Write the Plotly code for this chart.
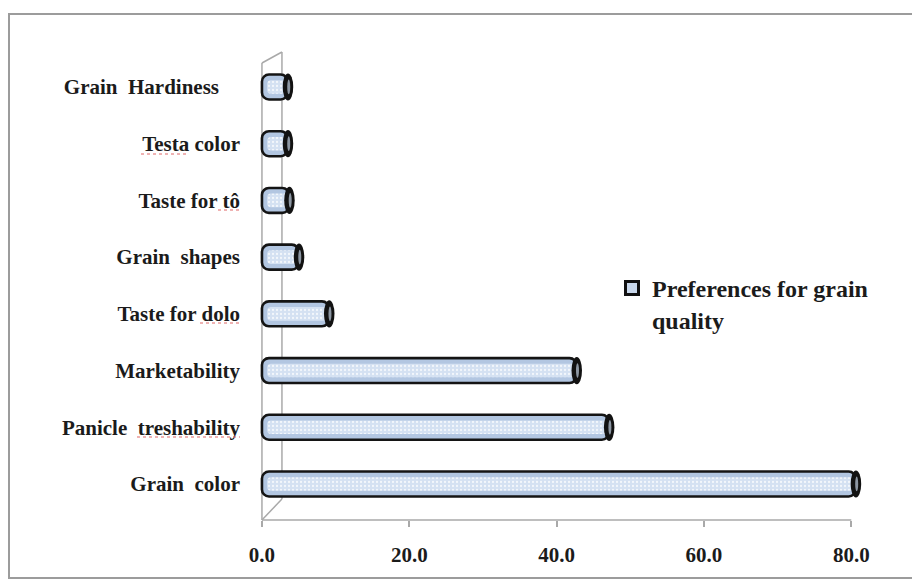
import plotly.graph_objects as go

# Grain-quality criteria, listed from the bottom of the chart to the top
criteria = [
    "Grain\u00a0 color",
    "Panicle\u00a0 treshability",
    "Marketability",
    "Taste for dolo",
    "Grain\u00a0 shapes",
    "Taste for tô",
    "Testa color",
    "Grain\u00a0 Hardiness\u00a0\u00a0\u00a0\u00a0",
]
preference_pct = [80.6, 47.1, 42.7, 9.1, 5.0, 3.7, 3.5, 3.5]

x_ticks = [0, 20, 40, 60, 80]
x_tick_text = ["0.0", "20.0", "40.0", "60.0", "80.0"]
series_name = "Preferences for grain<br>quality"

# ---- page geometry (pixels) ----
W, H = 912, 582
L, R, T, B = 259, 866, 52, 520
X_RANGE = [-0.4, 82]
Y_RANGE = [-0.635, 7.617]
BAR_W = 0.44
GLOSS_W = 0.24
GLOSS_START = 0.7


def px_x(px):
    return (px - L) / (R - L)


def px_y(py):
    return (B - py) / (B - T)


FONT = "Liberation Serif, Times New Roman, serif"
INK = "#1b1b1b"
WALL = "#a9a9a9"
BODY = "#b2c6e1"
GLOSS = "#d4e1f2"

fig = go.Figure()

# Cylinder bodies: each bar is drawn from its value back to zero so that
# the rounded tip forms the curved base of the cylinder on the left.
fig.add_trace(go.Bar(
    y=criteria,
    x=[-v for v in preference_pct],
    base=preference_pct,
    customdata=preference_pct,
    orientation="h",
    width=BAR_W,
    name=series_name,
    showlegend=False,
    marker=dict(
        color=BODY,
        line=dict(color="#141414", width=2.6),
        cornerradius=7,
    ),
    hovertemplate="%{y}: %{customdata:.1f}<extra></extra>",
))

# lighter band along the middle of each cylinder, with a fine stipple
fig.add_trace(go.Bar(
    y=criteria,
    x=[-(v - GLOSS_START) for v in preference_pct],
    base=preference_pct,
    orientation="h",
    width=GLOSS_W,
    showlegend=False,
    hoverinfo="skip",
    marker=dict(
        color=GLOSS,
        pattern=dict(shape=".", bgcolor=GLOSS, fgcolor="#f3f7fc",
                     size=4, solidity=0.25, fillmode="replace"),
        line=dict(width=0),
        cornerradius=4,
    ),
))

# legend key: square swatch with a heavy outline
fig.add_trace(go.Scatter(
    x=[None], y=[None], mode="markers", name=series_name,
    marker=dict(symbol="square", size=13, color="#c9d8ec",
                line=dict(color="#111111", width=3)),
    hoverinfo="skip",
))

shapes = []

# outer chart-area frame
shapes.append(dict(type="rect", xref="paper", yref="paper",
                   x0=px_x(9), x1=px_x(914), y0=px_y(578), y1=px_y(14),
                   line=dict(color="#9c9c9c", width=2), layer="below"))

# 3-D wall and floor edges
wall = dict(color=WALL, width=1.5)
shapes += [
    dict(type="line", xref="x", yref="paper", x0=0, x1=0,
         y0=0, y1=px_y(63), line=wall, layer="below"),
    dict(type="line", xref="x", xsizemode="pixel", xanchor=0, x0=20, x1=20,
         yref="paper", y0=px_y(499), y1=1, line=wall, layer="below"),
    dict(type="line", xref="x", xsizemode="pixel", xanchor=0, x0=0, x1=20,
         yref="paper", y0=px_y(63), y1=1, line=wall, layer="below"),
    dict(type="line", xref="x", xsizemode="pixel", xanchor=0, x0=0, x1=20,
         yref="paper", y0=0, y1=px_y(499), line=wall, layer="below"),
    dict(type="line", xref="x", yref="paper", x0=x_ticks[0], x1=x_ticks[-1],
         y0=0, y1=0, line=wall, layer="below"),
]

# elliptical end caps of the cylinders
for i, v in enumerate(preference_pct):
    shapes.append(dict(type="circle", xref="x", xsizemode="pixel", xanchor=v,
                       x0=-5, x1=5.5, yref="y",
                       y0=i - BAR_W / 2 - 0.02, y1=i + BAR_W / 2 + 0.02,
                       fillcolor="#121212", line=dict(width=0), layer="above"))
    shapes.append(dict(type="circle", xref="x", xsizemode="pixel", xanchor=v,
                       x0=-0.5, x1=2.5, yref="y", y0=i - 0.13, y1=i + 0.13,
                       fillcolor="#8d97a3", line=dict(width=0), layer="above"))

# red spell-check squiggles under some label words
squiggle = dict(color="#e06666", width=1.2, dash="dot")
for x0p, x1p, yp in [(141, 187, 154), (218, 240, 210), (200, 240, 323),
                     (137, 240, 437)]:
    shapes.append(dict(type="line", xref="paper", yref="paper",
                       x0=px_x(x0p), x1=px_x(x1p), y0=px_y(yp), y1=px_y(yp),
                       line=squiggle, layer="above"))

fig.update_layout(
    width=W, height=H,
    margin=dict(l=L, r=W - R, t=T, b=H - B, pad=0),
    paper_bgcolor="white",
    plot_bgcolor="white",
    barmode="overlay",
    showlegend=True,
    shapes=shapes,
    font=dict(family=FONT, color=INK),
    legend=dict(
        x=px_x(612), xanchor="left",
        y=px_y(266), yanchor="top",
        valign="top",
        font=dict(family=FONT, size=24, color=INK, weight="bold"),
        bgcolor="rgba(0,0,0,0)",
        itemwidth=30,
    ),
    xaxis=dict(
        range=X_RANGE,
        tickvals=x_ticks,
        ticktext=x_tick_text,
        ticks="outside", ticklen=6, tickcolor=WALL, tickwidth=1.5,
        showgrid=False, zeroline=False, showline=False,
        tickfont=dict(family=FONT, size=21, color=INK, weight="bold"),
        ticklabelstandoff=10,
        fixedrange=True,
    ),
    yaxis=dict(
        type="category",
        categoryorder="array", categoryarray=criteria,
        range=Y_RANGE,
        showgrid=False, zeroline=False, showline=False, ticks="",
        tickfont=dict(family=FONT, size=21, color=INK, weight="bold"),
        ticklabelstandoff=18,
        fixedrange=True,
    ),
)

fig.write_html("out.html")
